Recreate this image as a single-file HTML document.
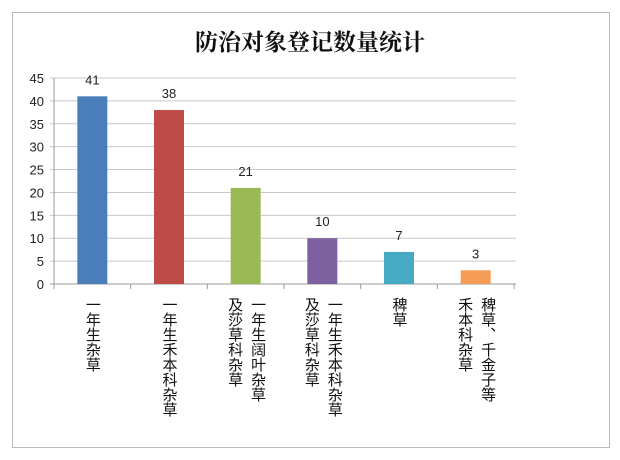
<!DOCTYPE html>
<html><head><meta charset="utf-8">
<style>
body{margin:0;background:#fff;width:620px;height:460px;overflow:hidden}
svg{display:block}
text{font-family:"Liberation Sans","Noto Sans CJK SC",sans-serif}
</style></head>
<body>
<svg id="chart" width="620" height="460">
<rect x="12.5" y="12.5" width="597" height="435" fill="#fff" stroke="#bbb"/>
<text x="310" y="50" text-anchor="middle" font-size="23" font-weight="bold" fill="#111" style="font-family:'Noto Serif CJK SC','Noto Sans CJK SC',serif">防治对象登记数量统计</text>
<g id="grid"></g><g id="bars"></g><g id="labels"></g>
</svg>
<script>
const categories=[["一年生杂草"],["一年生禾本科杂草"],["一年生阔叶杂草","及莎草科杂草"],["一年生禾本科杂草","及莎草科杂草"],["稗草"],["稗草、千金子等","禾本科杂草"]];
const values=[41,38,21,10,7,3];
const colors=["#4a7ebb","#be4b48","#98b954","#7d60a0","#46aac5","#f59d56"];
const yTicks=[0,5,10,15,20,25,30,35,40,45];
const X0=54,X1=514,Y0=284,Y1=78,YMAX=45;
const ns="http://www.w3.org/2000/svg";
const y=v=>Y0-(v/YMAX)*(Y0-Y1);
const cw=(X1-X0)/values.length;
const xc=i=>X0+cw*(i+0.5);
function mk(t,a,p,txt){const e=document.createElementNS(ns,t);for(const k in a)e.setAttribute(k,a[k]);if(txt!=null)e.textContent=txt;p.appendChild(e);return e;}
const g=document.getElementById('grid');
yTicks.forEach(v=>{
 const l=mk('line',{x1:X0-4,x2:516,y1:y(v),y2:y(v),stroke:v===0?'#999':'#c8c8c8'},g);
 
 
 const t=mk('text',{x:X0-10,y:y(v)+5,'text-anchor':'end','font-size':13,fill:'#222'},g,v);
 
 
});
const ax=mk('line',{x1:X0,x2:X0,y1:Y1,y2:Y0,stroke:'#999'},g);


for(let i=0;i<=values.length;i++){
 const tk=mk('line',{x1:X0+cw*i,x2:X0+cw*i,y1:Y0,y2:Y0+5,stroke:'#999'},g);
 
 
}
const b=document.getElementById('bars'),lb=document.getElementById('labels');
values.forEach((v,i)=>{
 const r=mk('rect',{x:xc(i)-15,y:y(v),width:30,height:Y0-y(v),fill:colors[i]},b);
 
 
 const t=mk('text',{x:xc(i),y:y(v)-12,'text-anchor':'middle','font-size':13,fill:'#222'},b,v);
 
 
 const lines=categories[i];
 lines.forEach((s,j)=>{
  const off=lines.length===1?0:(j===0?12:-11);
  const tt=mk('text',{x:xc(i)+off,y:297,'font-size':15,fill:'#111',style:'writing-mode:vertical-rl;glyph-orientation-vertical:0'},lb,s);
  
  
 });
});
</script>
</body></html>
